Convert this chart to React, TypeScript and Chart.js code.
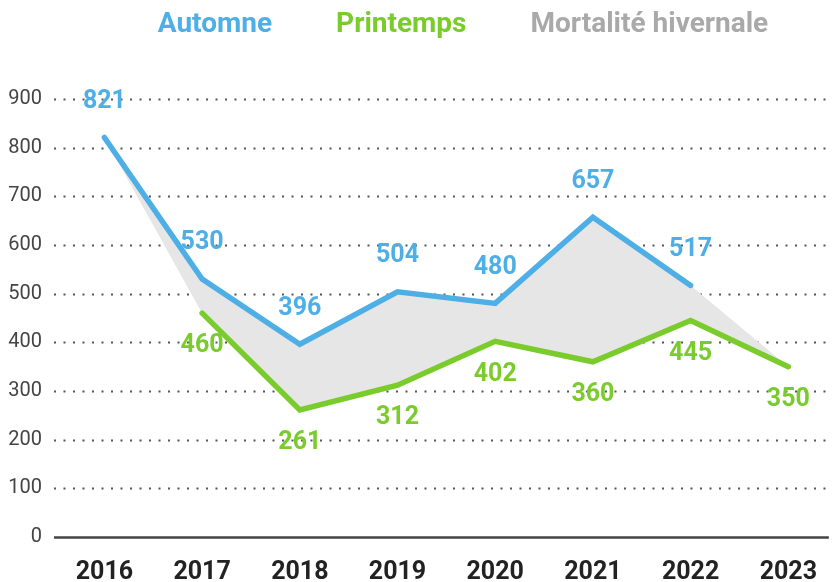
import React, { useEffect, useRef } from 'react';
import { Chart, registerables } from 'chart.js';

Chart.register(...registerables);

const years = ['2016', '2017', '2018', '2019', '2020', '2021', '2022', '2023'];
const autumn: (number | null)[] = [821, 530, 396, 504, 480, 657, 517, null];
const spring: (number | null)[] = [null, 460, 261, 312, 402, 360, 445, 350];
const seriesLabels = ['Automne', 'Printemps', 'Mortalité hivernale'];

const BLUE = '#4eaee6';
const GREEN = '#7acb2c';
const GRAY_FILL = '#e6e6e6';
const GRAY_TEXT = '#a9a9a9';
const FONT = 'Roboto, "Noto Sans", sans-serif';

const toPoints = (arr: (number | null)[]) =>
  arr.map((v, i) => ({ x: i, y: v }));

const mortTop = autumn.map((v, i) => (v ?? spring[i]));
const mortBottom = spring.map((v, i) => (v ?? autumn[i]));

const gridPlugin = {
  id: 'customGrid',
  beforeDatasetsDraw(chart: any) {
    const { ctx, chartArea, scales } = chart;
    const y = scales.y;
    ctx.save();
    y.ticks.forEach((t: any) => {
      const py = Math.round(y.getPixelForValue(t.value)) + 0.5;
      ctx.beginPath();
      if (t.value === 0) {
        ctx.setLineDash([]);
        ctx.lineWidth = 2.5;
        ctx.strokeStyle = '#444';
      } else {
        ctx.setLineDash([2, 7.5]);
        ctx.lineWidth = 2;
        ctx.strokeStyle = '#555';
      }
      ctx.moveTo(chartArea.left, py);
      ctx.lineTo(chartArea.right, py);
      ctx.stroke();
    });
    ctx.restore();
  },
};

const labelPlugin = {
  id: 'valueLabels',
  afterDatasetsDraw(chart: any) {
    const { ctx } = chart;
    ctx.save();
    ctx.font = `bold 25px ${FONT}`;
    ctx.textAlign = 'center';
    ctx.textBaseline = 'middle';
    [0, 1].forEach((di) => {
      const ds = chart.data.datasets[di];
      const meta = chart.getDatasetMeta(di);
      const off = di === 0 ? -36 : 33;
      ctx.fillStyle = ds.borderColor;
      meta.data.forEach((el: any, i: number) => {
        const v = ds.data[i].y;
        if (v === null || v === undefined) return;
        ctx.fillText(String(v), el.x, el.y + off);
      });
    });
    ctx.restore();
  },
};

const legendPlugin = {
  id: 'textLegend',
  afterDraw(chart: any) {
    const { ctx } = chart;
    const colors = [BLUE, GREEN, GRAY_TEXT];
    ctx.save();
    ctx.font = `bold 28px ${FONT}`;
    ctx.textBaseline = 'middle';
    ctx.textAlign = 'left';
    const gap = 64;
    const widths = seriesLabels.map((l) => ctx.measureText(l).width);
    const total = widths.reduce((a, b) => a + b, 0) + gap * (seriesLabels.length - 1);
    let x = 463 - total / 2;
    seriesLabels.forEach((l, i) => {
      ctx.fillStyle = colors[i];
      ctx.fillText(l, x, 25);
      x += widths[i] + gap;
    });
    ctx.restore();
  },
};

export default function App() {
  const ref = useRef<HTMLCanvasElement | null>(null);

  useEffect(() => {
    document.body.style.margin = '0';
    if (!ref.current) return;
    const chart = new Chart(ref.current, {
      type: 'line',
      data: {
        datasets: [
          {
            label: seriesLabels[0],
            data: toPoints(autumn),
            borderColor: BLUE,
            borderWidth: 5.5,
            pointRadius: 0,
            fill: false,
            borderCapStyle: 'round',
            borderJoinStyle: 'miter',
          },
          {
            label: seriesLabels[1],
            data: toPoints(spring),
            borderColor: GREEN,
            borderWidth: 5.5,
            pointRadius: 0,
            fill: false,
            borderCapStyle: 'round',
            borderJoinStyle: 'miter',
          },
          {
            label: seriesLabels[2],
            data: toPoints(mortTop),
            borderColor: 'transparent',
            borderWidth: 0,
            pointRadius: 0,
            backgroundColor: GRAY_FILL,
            fill: '+1',
          },
          {
            label: seriesLabels[2] + ' (bas)',
            data: toPoints(mortBottom),
            borderColor: 'transparent',
            borderWidth: 0,
            pointRadius: 0,
            fill: false,
          },
        ],
      } as any,
      options: {
        responsive: false,
        animation: false,
        layout: { padding: { top: 99, left: 0, right: 0, bottom: 0 } },
        plugins: {
          legend: { display: false },
          tooltip: { enabled: false },
        },
        scales: {
          x: {
            type: 'linear',
            min: -0.516,
            max: 7.415,
            grid: { display: false, drawTicks: false },
            border: { display: false },
            ticks: {
              stepSize: 1,
              includeBounds: false,
              autoSkip: false,
              maxRotation: 0,
              padding: 21,
              color: '#222',
              font: { family: FONT, size: 25, weight: 'bold' },
              callback: (v: any) => (Number.isInteger(v) && years[v] ? years[v] : ''),
            },
            afterFit: (s: any) => {
              s.height = 45;
            },
          },
          y: {
            min: 0,
            max: 900,
            grid: { display: false, drawTicks: false },
            border: { display: false },
            ticks: {
              stepSize: 100,
              padding: 12,
              color: '#444',
              font: { family: FONT, size: 20 },
            },
            afterFit: (s: any) => {
              s.width = 54;
            },
          },
        },
      } as any,
      plugins: [gridPlugin, labelPlugin, legendPlugin],
    });
    return () => chart.destroy();
  }, []);

  return (
    <div style={{ width: 838, height: 582 }}>
      <canvas ref={ref} width={838} height={582} />
    </div>
  );
}
